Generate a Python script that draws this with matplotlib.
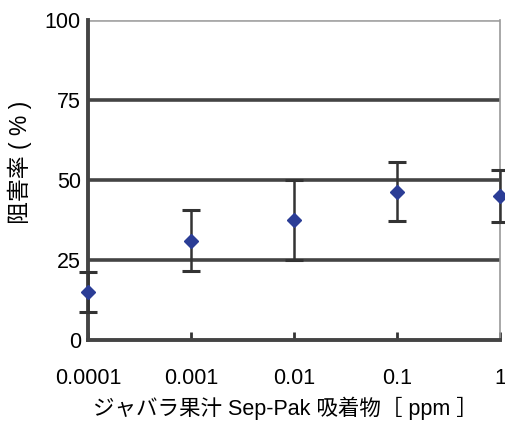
import numpy as np
import matplotlib
matplotlib.use('Agg')
import matplotlib.pyplot as plt

plt.rcParams['font.family'] = ['Liberation Sans', 'Noto Sans CJK JP', 'DejaVu Sans']

conc = [0.0001, 0.001, 0.01, 0.1, 1]
inhibition = [15, 31, 37.5, 46.3, 45]
err = [6.2, 9.5, 12.5, 9.2, 8]
xticklabels = ['0.0001', '0.001', '0.01', '0.1', '1']
yticks = [0, 25, 50, 75, 100]

fig = plt.figure(figsize=(5.05, 4.23), dpi=100)
ax = fig.add_axes([0.174, 0.196, 0.816, 0.757])

for y in [25, 50, 75]:
    ax.axhline(y, color='#444444', lw=2.6, zorder=1)
ax.axhline(100, color='#aaaaaa', lw=2.0, zorder=1)

ax.errorbar(conc, inhibition, yerr=err, fmt='D', color='#2b3d96', ms=7.5,
            ecolor='#333333', elinewidth=1.8, capsize=6.5, capthick=2.2,
            zorder=3, clip_on=False)

ax.set_xscale('log')
ax.set_xlim(0.0001, 1)
ax.set_ylim(0, 100)
ax.set_xticks(conc)
ax.set_xticklabels(xticklabels)
ax.minorticks_off()
ax.set_yticks(yticks)
ax.tick_params(axis='x', direction='in', length=6, width=2, color='#333333',
               labelsize=15.5, pad=20)
ax.tick_params(axis='y', length=0, labelsize=15.5, pad=5)

for s in ['left', 'bottom']:
    ax.spines[s].set_color('#444444')
    ax.spines[s].set_linewidth(2.8)
ax.spines['top'].set_visible(False)
ax.spines['right'].set_color('#999999')
ax.spines['right'].set_linewidth(1.2)

ax.set_xlabel('ジャバラ果汁 Sep-Pak 吸着物［ ppm ］', fontsize=15.5)
ax.xaxis.set_label_coords(0.48, -0.175)
ax.set_ylabel('阻害率 ( % )', fontsize=16.5)
ax.yaxis.set_label_coords(-0.135, 0.556)

plt.savefig('out.png', dpi=100)
